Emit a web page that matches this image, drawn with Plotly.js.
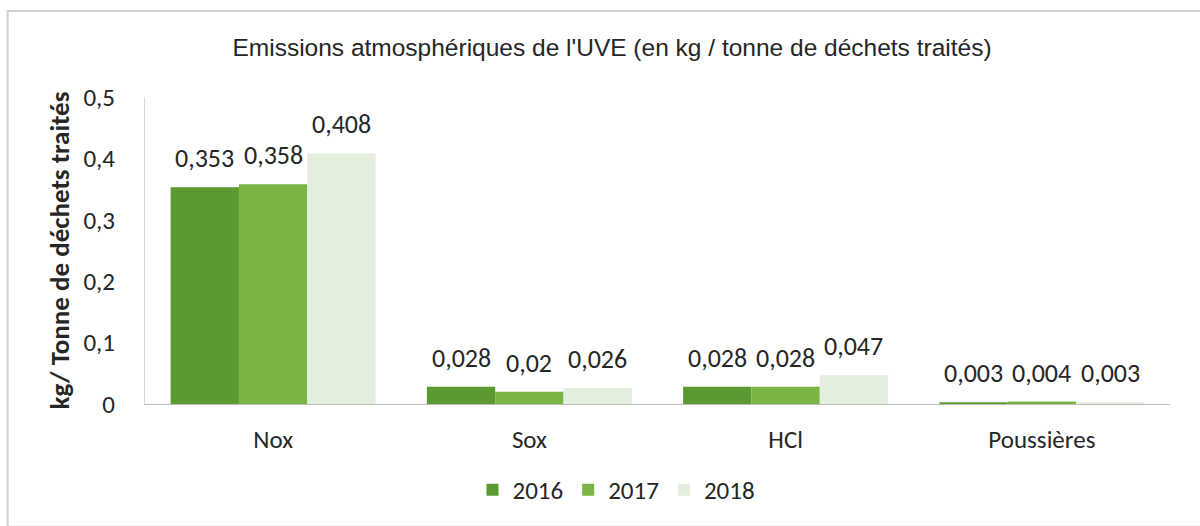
<!DOCTYPE html>
<html><head><meta charset="utf-8">
<script src="https://cdn.plot.ly/plotly-3.0.1.min.js"></script>
<style>html,body{margin:0;padding:0;background:#fff}#c{width:1200px;height:526px}</style>
</head><body><div id="c"></div>
<script>
const categories = ["Nox", "Sox", "HCl", "Poussières"];
const years = ["2016", "2017", "2018"];
const v2016 = [0.353, 0.028, 0.028, 0.003];
const v2017 = [0.358, 0.02, 0.028, 0.004];
const v2018 = [0.408, 0.026, 0.047, 0.003];
const colors = ["#5b9a31", "#79b445", "#e3eedd"];
const series = [v2016, v2017, v2018];
const fmt = v => String(v).replace('.', ',');
const FF = "Carlito, Lato, 'Liberation Sans', sans-serif";
const labelFont = {family: FF, size: 26, color: "#262626"};
const tickFont = {family: FF, size: 25, color: "#262626"};

const W = 1200, H = 526, M = {l: 145, r: 30, t: 97, b: 122};
const bargap = 0.2;
const catPx = (W - M.l - M.r) / categories.length;
const barPx = catPx * (1 - bargap) / series.length;

const traces = series.map((vals, i) => ({
  type: 'bar', name: years[i], x: categories, y: vals,
  marker: {color: colors[i]}, hoverinfo: 'none'
}));
const annotations = [];
series.forEach((vals, i) => vals.forEach((v, j) => annotations.push({
  x: categories[j], y: v, xref: 'x', yref: 'y', text: fmt(v), showarrow: false,
  xanchor: 'center', yanchor: 'middle', xshift: (i - 1) * barPx, yshift: 29, font: labelFont
})));

const layout = {
  width: W, height: H, margin: M,
  paper_bgcolor: '#fff', plot_bgcolor: '#fff',
  separators: ', ',
  barmode: 'group', bargap: bargap, bargroupgap: 0,
  title: {text: "Emissions atmosphériques de l'UVE (en kg / tonne de déchets traités)",
    font: {family: "'Liberation Sans Narrow', 'Arial Narrow', 'Liberation Sans', sans-serif", size: 24.5, color: '#262626'},
    x: 0.51, xanchor: 'center', y: 0.91, yanchor: 'middle'},
  xaxis: {showline: true, linecolor: '#bfbfbf', linewidth: 1, ticks: 'outside', ticklen: 13, tickcolor: 'rgba(0,0,0,0)',
    tickfont: tickFont, showgrid: false, zeroline: false},
  yaxis: {range: [0, 0.5], dtick: 0.1, tick0: 0, showline: true, linecolor: '#d9d9d9', linewidth: 1,
    ticks: 'outside', ticklen: 24, tickcolor: 'rgba(0,0,0,0)', tickfont: tickFont,
    showgrid: false, zeroline: false,
    title: {text: '<b>kg/ Tonne de déchets traités</b>', font: {family: FF, size: 27, color: '#262626'}, standoff: 5}},
  legend: {orientation: 'h', x: 0.46, xanchor: 'center', y: -0.28, yanchor: 'middle',
    font: tickFont, itemwidth: 30, traceorder: 'normal'},
  showlegend: true,
  annotations: annotations,
  shapes: [{type: 'rect', xref: 'paper', yref: 'paper', x0: -0.134, x1: 1.04, y0: -0.4, y1: 1.28,
    line: {color: '#d0d0d0', width: 2}, fillcolor: 'rgba(0,0,0,0)', layer: 'below'}]
};
Plotly.newPlot('c', traces, layout, {staticPlot: true, displayModeBar: false});
</script></body></html>
